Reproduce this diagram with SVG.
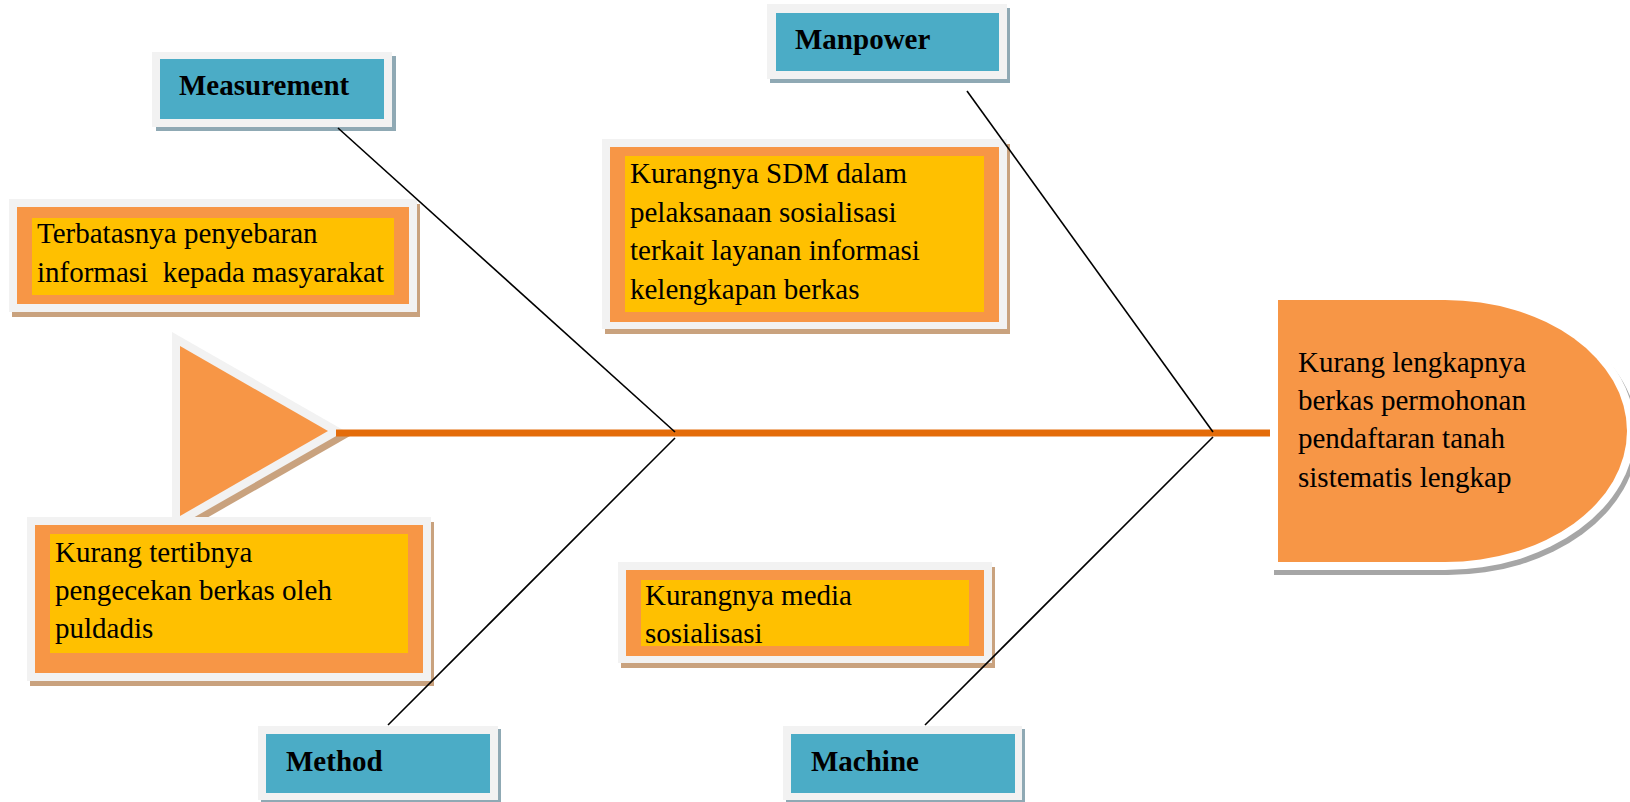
<svg xmlns="http://www.w3.org/2000/svg" width="1630" height="802" viewBox="0 0 1630 802">
<style>
.frame{fill:#F2F2F2}
.blue{fill:#4BACC6}
.bsh{fill:#8FA9B4}
.org{fill:#F79646}
.ylw{fill:#FFC000}
.osh{fill:#C9A27E}
.lbl{font-family:"Liberation Serif","Times New Roman",serif;font-size:29px;font-weight:bold;fill:#000}
.txt{font-family:"Liberation Serif","Times New Roman",serif;font-size:29px;fill:#000}
.bone{stroke:#000;stroke-width:1.6;fill:none}
</style>
<rect width="1630" height="802" fill="#FFFFFF"/>

<g id="head-triangle">
  <polygon points="177,337 350,436 177,535" class="osh"/>
  <polygon points="172,332 345,431 172,530" class="frame"/>
  <polygon points="180,346 328,431 180,516" class="org"/>
</g>

<g id="connectors">
  <line x1="336" y1="433" x2="1272" y2="433" stroke="#E46C0A" stroke-width="7"/>
</g>

<g id="effect">
  <path d="M1274,297 H1448 A190,139 0 0 1 1448,575 H1274 Z" fill="#A6A6A6"/>
  <path d="M1270,292 H1445 A190,139 0 0 1 1445,570 H1270 Z" fill="#FFFFFF"/>
  <path d="M1278,300 H1445 A182,131 0 0 1 1445,562 H1278 Z" class="org"/>
  <text class="txt" x="1298" y="372">Kurang lengkapnya</text>
  <text class="txt" x="1298" y="410">berkas permohonan</text>
  <text class="txt" x="1298" y="448">pendaftaran tanah</text>
  <text class="txt" x="1298" y="487">sistematis lengkap</text>
</g>

<g id="measurement">
  <rect x="156" y="56" width="240" height="75" class="bsh"/>
  <rect x="152" y="52" width="240" height="75" class="frame"/>
  <rect x="160" y="59" width="224" height="60" class="blue"/>
  <text class="lbl" x="179" y="95">Measurement</text>
</g>

<g id="manpower">
  <rect x="770" y="8" width="240" height="75" class="bsh"/>
  <rect x="767" y="4" width="240" height="75" class="frame"/>
  <rect x="776" y="13" width="223" height="58" class="blue"/>
  <text class="lbl" x="795" y="49">Manpower</text>
</g>

<g id="method">
  <rect x="261" y="729" width="240" height="74" class="bsh"/>
  <rect x="258" y="726" width="240" height="74" class="frame"/>
  <rect x="266" y="734" width="224" height="59" class="blue"/>
  <text class="lbl" x="286" y="771">Method</text>
</g>

<g id="machine">
  <rect x="786" y="729" width="239" height="74" class="bsh"/>
  <rect x="783" y="726" width="239" height="74" class="frame"/>
  <rect x="791" y="734" width="224" height="59" class="blue"/>
  <text class="lbl" x="811" y="771">Machine</text>
</g>

<g id="cause-measurement">
  <rect x="12" y="204" width="408" height="113" class="osh"/>
  <rect x="9" y="199" width="408" height="113" class="frame"/>
  <rect x="17" y="207" width="392" height="97" class="org"/>
  <rect x="32" y="218" width="362" height="77" class="ylw"/>
  <text class="txt" x="37" y="243">Terbatasnya penyebaran</text>
  <text class="txt" x="37" y="282" xml:space="preserve">informasi  kepada masyarakat</text>
</g>

<g id="cause-manpower">
  <rect x="605" y="144" width="405" height="190" class="osh"/>
  <rect x="602" y="139" width="405" height="190" class="frame"/>
  <rect x="610" y="147" width="389" height="175" class="org"/>
  <rect x="625" y="156" width="359" height="156" class="ylw"/>
  <text class="txt" x="630" y="183">Kurangnya SDM dalam</text>
  <text class="txt" x="630" y="221.5">pelaksanaan sosialisasi</text>
  <text class="txt" x="630" y="260">terkait layanan informasi</text>
  <text class="txt" x="630" y="298.5">kelengkapan berkas</text>
</g>

<g id="cause-method">
  <rect x="30" y="522" width="404" height="164" class="osh"/>
  <rect x="27" y="517" width="404" height="164" class="frame"/>
  <rect x="35" y="525" width="388" height="148" class="org"/>
  <rect x="50" y="534" width="358" height="119" class="ylw"/>
  <text class="txt" x="55" y="562">Kurang tertibnya</text>
  <text class="txt" x="55" y="600">pengecekan berkas oleh</text>
  <text class="txt" x="55" y="638">puldadis</text>
</g>

<g id="cause-machine">
  <rect x="621" y="567" width="374" height="101" class="osh"/>
  <rect x="618" y="562" width="374" height="101" class="frame"/>
  <rect x="626" y="570" width="358" height="86" class="org"/>
  <rect x="641" y="580" width="328" height="66" class="ylw"/>
  <text class="txt" x="645" y="605">Kurangnya media</text>
  <text class="txt" x="645" y="643">sosialisasi</text>
</g>

<g id="bones">
  <line class="bone" x1="338" y1="128" x2="675" y2="432"/>
  <line class="bone" x1="675" y1="438" x2="388" y2="725"/>
  <line class="bone" x1="967" y1="91" x2="1213" y2="432"/>
  <line class="bone" x1="1213" y1="437" x2="925" y2="725"/>
</g>
</svg>
